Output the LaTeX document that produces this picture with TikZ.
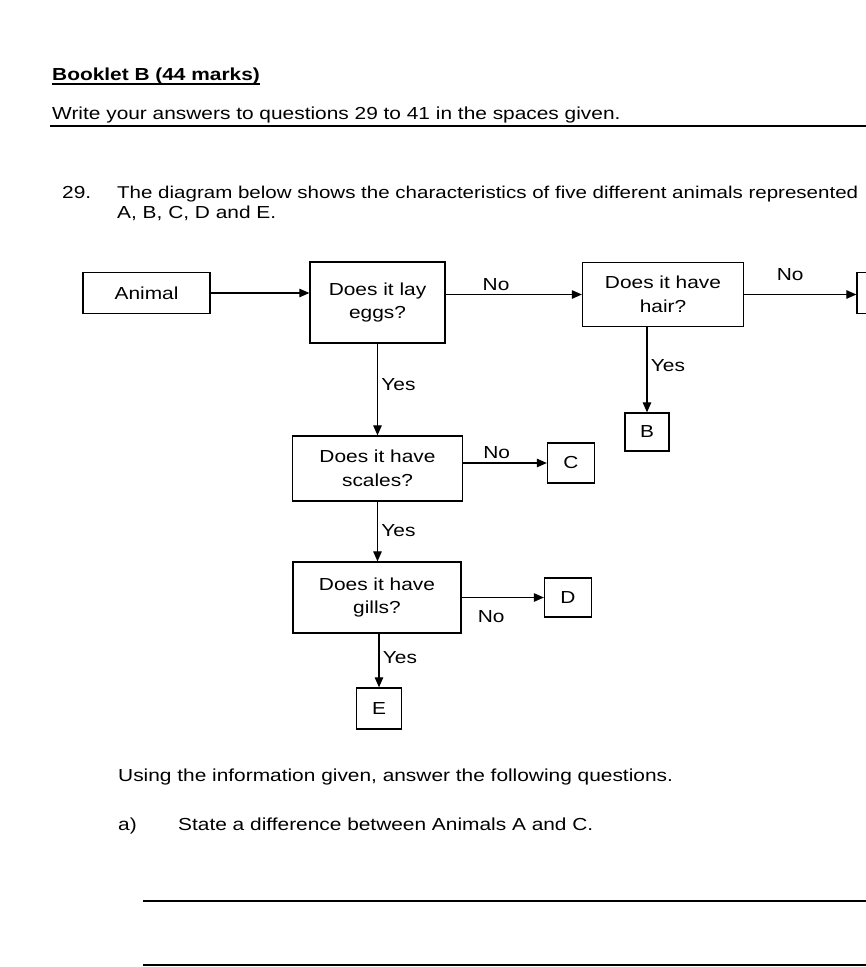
\documentclass[tikz,border=0pt]{standalone}
\usepackage{fontspec}
\setmainfont{Liberation Sans}[FakeStretch=1.2]
\usetikzlibrary{arrows.meta}
\newcommand\qsize{\fontsize{17.4pt}{23.5pt}\selectfont}
\tikzset{
  qbox/.style 2 args={draw, line width=1.3pt, inner sep=0pt, align=center,
    minimum width=#1, minimum height=#2},
  txt/.style={anchor=base west, inner sep=0pt},
  flow/.style={-{Triangle[length=10pt,width=8.5pt]}, line width=1.1pt},
  rule/.style={line width=1.2pt}
}
\begin{document}
\begin{tikzpicture}[x=1pt,y=-1pt,font=\qsize]
  \useasboundingbox (0,0) rectangle (866,967);
  \clip (0,0) rectangle (866,967);
  \fill[white] (0,0) rectangle (866,967);
  % heading and question
  \draw
    (52,80) node[txt] (head) {\bfseries Booklet B (44 marks)}
    (52,119) node[txt] (intro) {Write your answers to questions 29 to 41 in the spaces given.}
    (62,198) node[txt] (qnum) {29.}
    (117,198) node[txt,font=\fontsize{17.1pt}{23.5pt}\selectfont] (qtext) {The diagram below shows the characteristics of five different animals represented}
    (117,218) node[txt] (qtext2) {A, B, C, D and E.};
  \draw[rule] ([yshift=-4pt]head.base west) -- ([yshift=-4pt]head.base east);
  \draw[rule] (50,126) -- (866,126);
  % flow chart
  \draw
    (146.5,293) node[qbox={127pt}{41pt}] (animal) {Animal}
    (377.5,302.5) node[qbox={135pt}{81pt}] (eggs) {Does it lay\\eggs?}
    (663,294.5) node[qbox={161pt}{64pt}] (hair) {Does it have\\hair?}
    (880,293) node[qbox={46pt}{41pt}] (last) {}
    (647,432) node[qbox={44pt}{38pt}] (b) {B}
    (377.5,468.5) node[qbox={170pt}{65pt}] (scales) {Does it have\\scales?}
    (571,463) node[qbox={47pt}{40pt}] (c) {C}
    (377,597.5) node[qbox={168pt}{71pt}] (gills) {Does it have\\gills?}
    (568,597.5) node[qbox={47pt}{39pt}] (d) {D}
    (379,708.5) node[qbox={45pt}{41pt}] (e) {E};
  \begin{scope}[flow]
    \draw (animal.east) to (animal.east -| eggs.west);
    \draw (eggs.east |- hair.west) to node[pos=.37,above]{No} (hair.west);
    \draw (hair.east) to node[pos=.41,above=10pt]{No} (hair.east -| last.west);
    \draw (hair.south -| b.north) to node[pos=.45,right]{Yes} (b.north);
    \draw (eggs) to node[pos=.45,right]{Yes} (scales);
    \draw (scales.east |- c.west) to node[pos=.4,above]{No} (c.west);
    \draw (scales.south) to node[pos=.48,right]{Yes} (scales.south |- gills.north);
    \draw (gills.east |- d.west) to node[pos=.36,below=9pt]{No} (d.west);
    \draw (gills.south -| e.north) to node[pos=.45,right]{Yes} (e.north);
  \end{scope}
  % part a
  \draw
    (118,781) node[txt] (using) {Using the information given, answer the following questions.}
    (118,830) node[txt] (part) {a)}
    (178,830) node[txt] (parttext) {State a difference between Animals A and C.};
  \draw[rule] (143,901) -- (866,901);
  \draw[rule] (143,965) -- (866,965);
\end{tikzpicture}
\end{document}
